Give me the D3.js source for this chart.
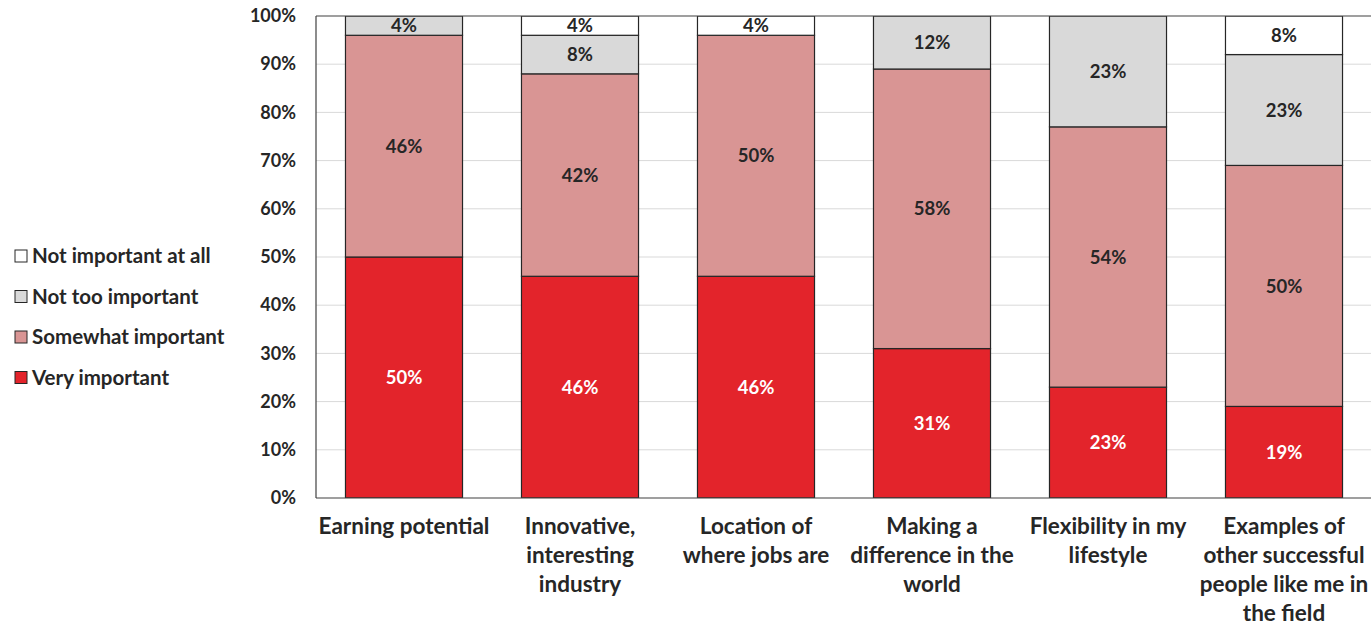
<!DOCTYPE html>
<html>
<head>
<meta charset="utf-8">
<script src="https://cdn.jsdelivr.net/npm/d3@7"></script>
<style>
  html, body { margin: 0; padding: 0; background: #fff; }
  svg { display: block; font-family: Lato, "Open Sans", sans-serif; font-weight: bold; }
</style>
</head>
<body>
<svg id="chart" width="1371" height="626"></svg>
<script>
// Survey categories (multi-line axis labels)
const categories = [
  ["Earning potential"],
  ["Innovative,", "interesting", "industry"],
  ["Location of", "where jobs are"],
  ["Making a", "difference in the", "world"],
  ["Flexibility in my", "lifestyle"],
  ["Examples of", "other successful", "people like me in", "the field"]
];
const seriesNames = ["Very important", "Somewhat important", "Not too important", "Not important at all"];
const veryImportant      = [50, 46, 46, 31, 23, 19];
const somewhatImportant  = [46, 42, 50, 58, 54, 50];
const notTooImportant    = [4, 8, 0, 12, 23, 23];
const notImportantAtAll  = [0, 4, 4, 0, 0, 8];
const yTicks = [0, 10, 20, 30, 40, 50, 60, 70, 80, 90, 100];

const colors = ["#e3242b", "#d99594", "#d9d9d9", "#ffffff"];
const labelColors = ["#ffffff", "#262626", "#262626", "#262626"];

const rows = categories.map((c, i) => ({
  key: i,
  s0: veryImportant[i],
  s1: somewhatImportant[i],
  s2: notTooImportant[i],
  s3: notImportantAtAll[i]
}));
const stack = d3.stack().keys(["s0", "s1", "s2", "s3"]);
const layers = stack(rows);

const svg = d3.select("#chart");
const plotLeft = 316, plotRight = 1372, plotTop = 16, plotBottom = 498;

const x = d3.scaleBand().domain(d3.range(categories.length)).range([plotLeft, plotRight]).paddingInner(0.335).paddingOuter(0.1675);
const y = d3.scaleLinear().domain([0, 100]).range([plotBottom, plotTop]);

// clip so any stacked overflow stays inside the plot
svg.append("clipPath").attr("id", "plotClip")
  .append("rect").attr("x", plotLeft).attr("y", plotTop).attr("width", plotRight - plotLeft).attr("height", plotBottom - plotTop);

// gridlines
svg.append("g").selectAll("line").data(yTicks.filter(t => t > 0 && t < 100)).join("line")
  .attr("x1", plotLeft).attr("x2", plotRight)
  .attr("y1", d => y(d)).attr("y2", d => y(d))
  .attr("stroke", "#d9d9d9").attr("stroke-width", 1);

// bars
const plot = svg.append("g").attr("clip-path", "url(#plotClip)");
layers.forEach((layer, li) => {
  plot.append("g").selectAll("rect").data(layer.filter(d => d[1] - d[0] > 0)).join("rect")
    .attr("x", d => x(d.data.key))
    .attr("width", x.bandwidth())
    .attr("y", d => y(Math.min(d[1], 100)))
    .attr("height", d => y(d[0]) - y(Math.min(d[1], 100)))
    .attr("fill", colors[li])
    .attr("stroke", "#262626").attr("stroke-width", 1.2);
});

// segment value labels
layers.forEach((layer, li) => {
  svg.append("g").selectAll("text").data(layer.filter(d => d[1] - d[0] > 0)).join("text")
    .attr("x", d => x(d.data.key) + x.bandwidth() / 2)
    .attr("y", d => (y(d[0]) + y(Math.min(d[1], 100))) / 2)
    .attr("dy", "0.36em")
    .attr("text-anchor", "middle")
    .attr("font-size", 18.5)
    .attr("fill", labelColors[li])
    .text(d => (d[1] - d[0]) + "%");
});

// plot frame (top and left)
svg.append("line").attr("x1", plotLeft).attr("x2", plotRight).attr("y1", plotTop).attr("y2", plotTop).attr("stroke", "#404040").attr("stroke-width", 1.2);
svg.append("line").attr("x1", plotLeft).attr("x2", plotLeft).attr("y1", plotTop).attr("y2", plotBottom).attr("stroke", "#404040").attr("stroke-width", 1.2);

// y axis
const yAxis = svg.append("g").attr("transform", `translate(${plotLeft},0)`)
  .call(d3.axisLeft(y).tickValues(yTicks).tickFormat(d => d + "%").tickSize(0).tickPadding(20));
yAxis.select(".domain").remove();
yAxis.selectAll("text").attr("font-size", 18).attr("font-weight", "bold").attr("fill", "#262626").attr("font-family", "Lato, 'Open Sans', sans-serif");

// x axis baseline
svg.append("line").attr("x1", plotLeft).attr("x2", plotRight).attr("y1", plotBottom).attr("y2", plotBottom).attr("stroke", "#404040").attr("stroke-width", 1.2);

// category labels
const catG = svg.append("g").selectAll("text").data(categories).join("text")
  .attr("x", (d, i) => x(i) + x.bandwidth() / 2)
  .attr("text-anchor", "middle")
  .attr("font-size", 22.5)
  .attr("fill", "#262626");
catG.each(function(lines) {
  const t = d3.select(this);
  const cx = t.attr("x");
  lines.forEach((ln, j) => {
    t.append("tspan").attr("x", cx).attr("y", 527 + j * 29).attr("dy", "0.32em").text(ln);
  });
});

// legend (top to bottom: reverse of stack order)
const legendItems = [3, 2, 1, 0];
const lg = svg.append("g").selectAll("g").data(legendItems).join("g")
  .attr("transform", (d, i) => `translate(15, ${256 + i * 40.5})`);
lg.append("rect").attr("x", 0).attr("y", -6).attr("width", 12).attr("height", 12)
  .attr("fill", d => colors[d]).attr("stroke", "#262626").attr("stroke-width", 1);
lg.append("text").attr("x", 17).attr("y", 0).attr("dy", "0.36em")
  .attr("font-size", 20.5).attr("fill", "#262626").text(d => seriesNames[d]);
</script>
</body>
</html>
